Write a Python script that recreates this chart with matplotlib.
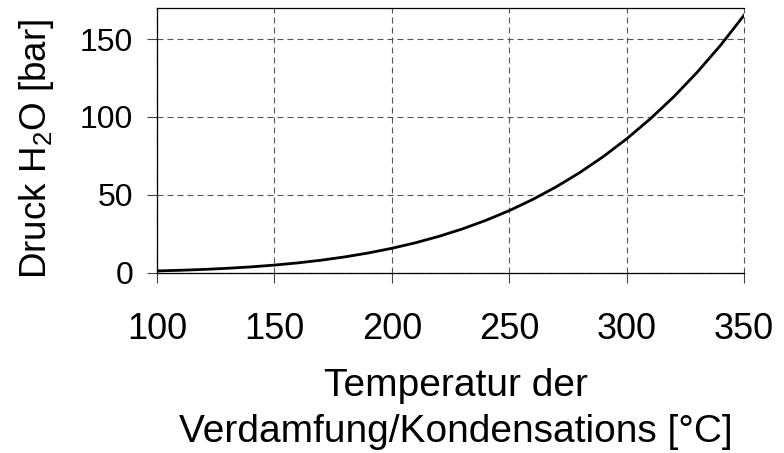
import matplotlib
matplotlib.use("Agg")
import matplotlib.pyplot as plt

plt.rcParams['font.family'] = ['Liberation Sans', 'DejaVu Sans']
plt.rcParams['mathtext.fontset'] = 'custom'
plt.rcParams['mathtext.rm'] = 'Liberation Sans'
plt.rcParams['mathtext.it'] = 'Liberation Sans:italic'
plt.rcParams['mathtext.bf'] = 'Liberation Sans:bold'

# Saturation pressure of water vs temperature
temperature = [100, 110, 120, 130, 140, 150, 160, 170, 180, 190, 200, 210, 220,
               230, 240, 250, 260, 270, 280, 290, 300, 310, 320, 330, 340, 350]
pressure = [1.014, 1.434, 1.987, 2.703, 3.615, 4.762, 6.182, 7.922, 10.03, 12.55,
            15.55, 19.07, 23.20, 27.97, 33.47, 39.76, 46.92, 55.03, 64.17, 74.42,
            85.88, 98.65, 112.8, 128.6, 146.0, 165.3]
x_ticks = [100, 150, 200, 250, 300, 350]
y_ticks = [0, 50, 100, 150]

fig = plt.figure(figsize=(7.84, 4.53), dpi=100)
ax = fig.add_axes([157/784, 1-272.5/453, (744-157)/784, (272.5-8)/453])

ax.plot(temperature, pressure, color='black', lw=2.0, zorder=3)
ax.set_xlim(100, 350)
ax.set_ylim(0, 170)
ax.set_xticks(x_ticks)
ax.set_yticks(y_ticks)

ax.grid(True, color='#555555', lw=0.8, dashes=(5.4, 3.6))
for gl in ax.get_xgridlines() + ax.get_ygridlines():
    gl.set_clip_on(False)
ax.spines['right'].set_visible(False)
for s in ['left', 'bottom', 'top']:
    ax.spines[s].set_linewidth(0.9)
    ax.spines[s].set_color('black')

ax.tick_params(axis='both', direction='out', length=7.2, width=0.8, color='#444444')
ax.tick_params(axis='x', labelsize=26, pad=21)
ax.tick_params(axis='y', labelsize=23, pad=10)

fig.text(456/784, 1-396/453, 'Temperatur der', fontsize=28, ha='center', va='baseline')
fig.text(456/784, 1-442/453, 'Verdamfung/Kondensations [°C]', fontsize=28, ha='center', va='baseline')
fig.text(37/784, 1-149/453, r'Druck H$_2$O [bar]', fontsize=26.5, rotation=90,
         ha='center', va='center')

fig.savefig('out.png', dpi=100)
